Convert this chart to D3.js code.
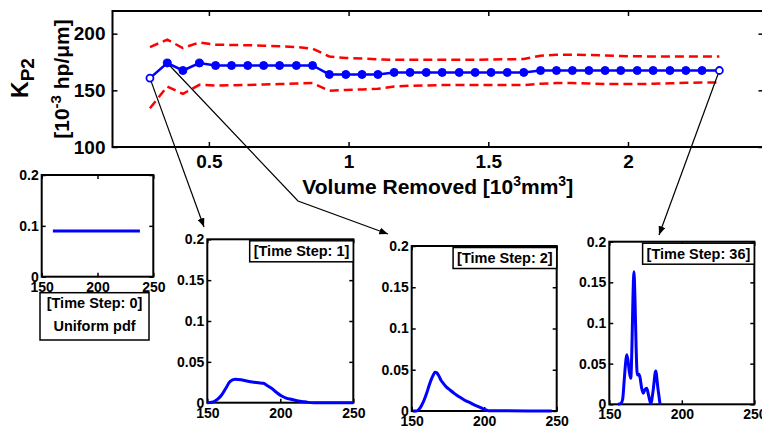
<!DOCTYPE html>
<html>
<head>
<meta charset="utf-8">
<script src="https://cdn.jsdelivr.net/npm/d3@7"></script>
<style>
  body { margin: 0; background: #fff; overflow: hidden; }
  svg { display: block; font-family: "Liberation Sans", Arial, sans-serif; font-weight: bold; }
  text { white-space: pre; }
</style>
</head>
<body>
<div id="chart"></div>
<script>
var width = 762,
    height = 428;

// main chart: K_P2 estimate against volume removed (36 time steps)
var volume = [0.289, 0.351, 0.407, 0.466, 0.524, 0.581, 0.639, 0.696, 0.753, 0.813, 0.871, 0.931,
              0.990, 1.048, 1.105, 1.163, 1.220, 1.278, 1.335, 1.396, 1.453, 1.510, 1.568, 1.627,
              1.687, 1.744, 1.801, 1.860, 1.918, 1.974, 2.033, 2.090, 2.150, 2.207, 2.265, 2.327];
var kMean  = [160.8, 174.1, 167.5, 174.1, 171.9, 171.9, 171.9, 171.9, 171.9, 171.9, 171.9, 164.0,
              164.0, 164.0, 164.0, 165.8, 165.8, 165.8, 165.8, 165.8, 165.8, 165.8, 165.8, 165.8,
              167.5, 167.5, 167.5, 167.5, 167.5, 167.5, 167.5, 167.5, 167.5, 167.5, 167.5, 167.5];
var kUpper = [188.2, 194.7, 187.3, 192.3, 190.3, 190.0, 189.8, 189.4, 189.0, 188.2, 186.7, 179.9,
              178.5, 178.0, 177.3, 177.0, 177.0, 177.0, 177.0, 177.0, 177.0, 177.2, 177.4, 177.6,
              180.5, 181.4, 181.4, 181.2, 180.8, 180.3, 180.0, 179.9, 179.9, 179.9, 179.9, 179.9];
var kLower = [134.2, 153.4, 146.9, 154.9, 154.3, 154.5, 154.8, 155.2, 155.5, 156.0, 156.4, 149.6,
              150.4, 150.8, 151.3, 153.4, 154.0, 154.3, 154.6, 154.6, 154.6, 154.6, 154.6, 154.6,
              155.8, 156.4, 156.4, 156.0, 155.5, 155.5, 155.5, 155.8, 156.2, 156.6, 157.0, 157.0];
var mainXTicks = [0.5, 1, 1.5, 2];
var mainYTicks = [100, 150, 200];

// pdf snapshots
var pdf0X = [160, 238];
var pdf0Y = [0.09, 0.09];
var pdf1X = [150, 153, 155.3, 157.5, 159.8, 162.5, 165.5, 169, 173, 177, 182, 185, 188.4, 191,
             194, 197.5, 200.9, 204, 207.8, 211.5, 215.8, 219, 222.6, 250];
var pdf1Y = [0, 0.0005, 0.002, 0.005, 0.0094, 0.017, 0.0257, 0.0286, 0.028, 0.0265, 0.025, 0.0243,
             0.0237, 0.021, 0.0176, 0.0125, 0.0082, 0.0057, 0.004, 0.0025, 0.0012, 0.0004, 0, 0];
var pdf2X = [151, 153.4, 155, 156.9, 158.5, 160.3, 162, 163.8, 165, 166.1, 167.2, 168.4, 170, 171.8,
             174, 176.4, 180, 183.3, 186.5, 190.2, 193.5, 197.1, 200, 202.9, 246.6];
var pdf2Y = [0, 0, 0.002, 0.007, 0.013, 0.0214, 0.031, 0.0396, 0.044, 0.0469, 0.0465, 0.0436, 0.038,
             0.0335, 0.029, 0.0255, 0.0205, 0.0166, 0.013, 0.0101, 0.007, 0.0044, 0.002, 0.0004, 0];
var pdf36X = [156, 158, 159.2, 160.3, 161.2, 162, 162.8, 163.8, 164.8, 165.6, 166.3, 167, 167.7,
              168.5, 169.3, 170.3, 171.2, 172.3, 173.4, 174.6, 175.8, 177.2, 178.6, 180.3, 182,
              183.5, 185];
var pdf36Y = [0, 0.001, 0.006, 0.03, 0.05, 0.061, 0.055, 0.04, 0.032, 0.07, 0.13, 0.163, 0.13,
              0.07, 0.036, 0.037, 0.033, 0.02, 0.0135, 0.018, 0.0197, 0.01, 0.001, 0.018, 0.041,
              0.02, 0];
var pdfXTicks = [150, 200, 250];
var pdfYTicks = [0, 0.05, 0.1, 0.15, 0.2];
var pdf0YTicks = [0, 0.1, 0.2];
var stepLabels = ["[Time Step: 0]", "[Time Step: 1]", "[Time Step: 2]", "[Time Step: 36]"];

var svg = d3.select("#chart").append("svg")
    .attr("width", width)
    .attr("height", height);

svg.append("defs").append("marker")
    .attr("id", "arrow")
    .attr("viewBox", "0 0 10 8")
    .attr("refX", 10)
    .attr("refY", 4)
    .attr("markerWidth", 9)
    .attr("markerHeight", 7)
    .attr("markerUnits", "userSpaceOnUse")
    .attr("orient", "auto")
  .append("path")
    .attr("d", "M0,0L10,4L0,8z")
    .attr("fill", "#000");

function styleAxis(sel, size) {
  sel.select(".domain").remove();
  sel.selectAll(".tick line").attr("stroke", "#000").attr("stroke-width", 1.5);
  sel.selectAll(".tick text")
      .attr("fill", "#000")
      .style("font-family", "'Liberation Sans', Arial, sans-serif")
      .style("font-weight", "bold")
      .style("font-size", size + "px");
}

// ---- main chart ----
var main = { left: 112.5, right: 763.5, top: 11, bottom: 147 };

var x = d3.scaleLinear().domain([0.155, 2.485]).range([main.left, main.right]);
var y = d3.scaleLinear().domain([100, 220]).range([main.bottom, main.top]);

var g = svg.append("g");

g.append("rect")
    .attr("x", main.left).attr("y", main.top)
    .attr("width", main.right - main.left).attr("height", main.bottom - main.top)
    .attr("fill", "none").attr("stroke", "#000").attr("stroke-width", 2);

g.append("g")
    .attr("transform", "translate(0," + main.bottom + ")")
    .call(d3.axisBottom(x).tickValues(mainXTicks).tickSizeInner(-5).tickSizeOuter(0)
      .tickPadding(8).tickFormat(d3.format("~g")))
    .call(styleAxis, 19);
g.append("g")
    .attr("transform", "translate(0," + main.top + ")")
    .call(d3.axisTop(x).tickValues(mainXTicks).tickSizeInner(-5).tickSizeOuter(0).tickFormat(""))
    .call(styleAxis, 19);
g.append("g")
    .attr("transform", "translate(" + main.left + ",0)")
    .call(d3.axisLeft(y).tickValues(mainYTicks).tickSizeInner(-5).tickSizeOuter(0).tickPadding(7))
    .call(styleAxis, 19);
g.append("g")
    .attr("transform", "translate(" + main.right + ",0)")
    .call(d3.axisRight(y).tickValues(mainYTicks).tickSizeInner(-5).tickSizeOuter(0).tickFormat(""))
    .call(styleAxis, 19);

var bandLine = function(arr) {
  return d3.line()
      .x(function(d, i) { return x(volume[i]); })
      .y(function(d) { return y(d); })(arr);
};

[kUpper, kLower].forEach(function(arr) {
  g.append("path")
      .attr("d", bandLine(arr))
      .attr("fill", "none")
      .attr("stroke", "#ff0000")
      .attr("stroke-width", 2.5)
      .attr("stroke-dasharray", "9,5");
});

g.append("path")
    .attr("d", bandLine(kMean))
    .attr("fill", "none")
    .attr("stroke", "#0000ff")
    .attr("stroke-width", 2.5);

// x title
var xt = g.append("text")
    .attr("x", (main.left + 763) / 2)
    .attr("y", 194)
    .attr("text-anchor", "middle")
    .style("font-size", "21px");
xt.append("tspan").text("Volume Removed [10");
xt.append("tspan").attr("dy", -8).style("font-size", "14px").text("3");
xt.append("tspan").attr("dy", 8).text("mm");
xt.append("tspan").attr("dy", -8).style("font-size", "14px").text("3");
xt.append("tspan").attr("dy", 8).text("]");

// y title
var yt1 = g.append("text")
    .attr("transform", "translate(28,78) rotate(-90)")
    .attr("text-anchor", "middle")
    .style("font-size", "23px");
yt1.append("tspan").text("K");
yt1.append("tspan").attr("dy", 6).style("font-size", "19px").text("P2");

var yt2 = g.append("text")
    .attr("transform", "translate(69,79) rotate(-90)")
    .attr("text-anchor", "middle")
    .style("font-size", "21px");
yt2.append("tspan").text("[10");
yt2.append("tspan").attr("dy", -8).style("font-size", "15px").text("-3");
yt2.append("tspan").attr("dy", 8).text(" hp/\u03bcm]");

// ---- pdf snapshots ----
function pdfPlot(box, xs, ys, yTicks) {
  var px = d3.scaleLinear().domain([150, 250]).range([box.left, box.right]);
  var py = d3.scaleLinear().domain([0, 0.2]).range([box.bottom, box.top]);
  var p = svg.append("g");

  p.append("g")
      .attr("transform", "translate(0," + box.bottom + ")")
      .call(d3.axisBottom(px).tickValues(pdfXTicks).tickSizeInner(-4).tickSizeOuter(0).tickPadding(5))
      .call(styleAxis, 14);
  p.append("g")
      .attr("transform", "translate(0," + box.top + ")")
      .call(d3.axisTop(px).tickValues(pdfXTicks).tickSizeInner(-4).tickSizeOuter(0).tickFormat(""))
      .call(styleAxis, 14);
  p.append("g")
      .attr("transform", "translate(" + box.left + ",0)")
      .call(d3.axisLeft(py).tickValues(yTicks).tickSizeInner(-4).tickSizeOuter(0).tickPadding(3)
        .tickFormat(d3.format("~g")))
      .call(styleAxis, 14);
  p.append("g")
      .attr("transform", "translate(" + box.right + ",0)")
      .call(d3.axisRight(py).tickValues(yTicks).tickSizeInner(-4).tickSizeOuter(0).tickFormat(""))
      .call(styleAxis, 14);

  p.append("rect")
      .attr("x", box.left).attr("y", box.top)
      .attr("width", box.right - box.left).attr("height", box.bottom - box.top)
      .attr("fill", "none").attr("stroke", "#000").attr("stroke-width", 2);

  p.append("path")
      .datum(d3.zip(xs, ys))
      .attr("fill", "none")
      .attr("stroke", "#0000ff")
      .attr("stroke-width", 3)
      .attr("d", d3.line()
        .x(function(d) { return px(d[0]); })
        .y(function(d) { return py(Math.max(0, d[1])); })
        .curve(d3.curveMonotoneX));
  return p;
}

function legendBox(p, label, box) {
  var lg = p.append("g");
  var r = lg.append("rect");
  var t = lg.append("text")
      .attr("text-anchor", "middle")
      .style("font-size", "14.5px")
      .text(label);
  var w = t.node().getComputedTextLength() + 8;
  r.attr("x", box.right - w).attr("y", box.top + 1.5)
      .attr("width", w).attr("height", 21)
      .attr("fill", "#fff").attr("stroke", "#000").attr("stroke-width", 1.5);
  t.attr("x", box.right - w / 2).attr("y", box.top + 17);
}

var box0 = { left: 41.7, right: 153.3, top: 175, bottom: 276.7 };
var box1 = { left: 207.3, right: 353.3, top: 239.3, bottom: 402.7 };
var box2 = { left: 411.7, right: 556.7, top: 246, bottom: 411 };
var box36 = { left: 609.3, right: 754.3, top: 241.7, bottom: 404.3 };

var p0 = pdfPlot(box0, pdf0X, pdf0Y, pdf0YTicks);
var p1 = pdfPlot(box1, pdf1X, pdf1Y, pdfYTicks);
var p2 = pdfPlot(box2, pdf2X, pdf2Y, pdfYTicks);
var p36 = pdfPlot(box36, pdf36X, pdf36Y, pdfYTicks);

legendBox(p1, stepLabels[1], box1);
legendBox(p2, stepLabels[2], box2);
legendBox(p36, stepLabels[3], box36);

// time step 0 caption under its plot
var cap = p0.append("g");
cap.append("rect")
    .attr("x", 40).attr("y", 292.7).attr("width", 109).attr("height", 47.3)
    .attr("fill", "#fff").attr("stroke", "#000").attr("stroke-width", 1.5);
cap.append("text").attr("x", 94.5).attr("y", 308).attr("text-anchor", "middle")
    .style("font-size", "14.5px").text(stepLabels[0]);
cap.append("text").attr("x", 94.5).attr("y", 331).attr("text-anchor", "middle")
    .style("font-size", "14.5px").text("Uniform pdf");

// ---- arrows from time steps to snapshots ----
var arrows = [
  [[x(volume[0]), y(kMean[0])], [204, 227]],
  [[x(volume[1]), y(kMean[1])], [298, 201], [388, 234]],
  [[x(volume[35]), y(kMean[35])], [659, 235]]
];
svg.selectAll(".arrow")
  .data(arrows)
  .enter().append("path")
    .attr("class", "arrow")
    .attr("d", d3.line())
    .attr("fill", "none")
    .attr("stroke", "#000")
    .attr("stroke-width", 1.2)
    .attr("marker-end", "url(#arrow)");

// markers on top
var idx = d3.range(volume.length);
svg.append("g").selectAll("circle")
  .data(idx)
  .enter().append("circle")
    .attr("cx", function(i) { return x(volume[i]); })
    .attr("cy", function(i) { return y(kMean[i]); })
    .attr("r", function(i) { return (i === 0 || i === idx.length - 1) ? 3.5 : 4; })
    .attr("fill", function(i) { return (i === 0 || i === idx.length - 1) ? "#fff" : "#0000ff"; })
    .attr("stroke", "#0000ff")
    .attr("stroke-width", function(i) { return (i === 0 || i === idx.length - 1) ? 1.8 : 1; });
</script>
</body>
</html>
